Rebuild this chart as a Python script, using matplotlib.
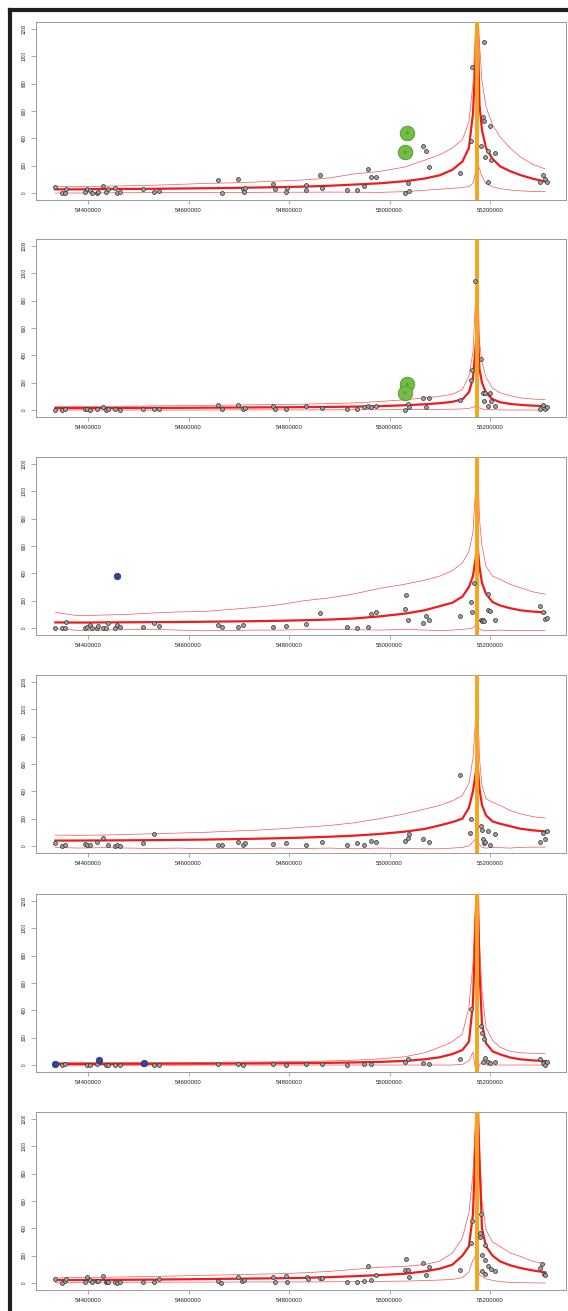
import matplotlib
matplotlib.use("Agg")
import matplotlib.pyplot as plt
from matplotlib.lines import Line2D

plt.rcParams['font.family'] = ['Liberation Sans', 'DejaVu Sans']

# ---------------- data ----------------
X_CURVE = [54335000, 54380000, 54430000, 54480000, 54530000, 54580000, 54630000, 54680000,
           54730000, 54780000, 54830000, 54880000, 54930000, 54980000, 55030000, 55070000,
           55100000, 55125000, 55145000, 55158000, 55166000, 55171000, 55175000, 55179000,
           55184000, 55192000, 55205000, 55220000, 55240000, 55260000, 55285000, 55310000]

MEAN_1 = [27, 27, 29, 30, 31, 33, 35, 37, 40, 43, 47, 53, 62, 71, 86, 106, 130, 170, 230, 330,
          580, 950, 1300, 650, 460, 330, 250, 195, 160, 132, 105, 83]
UPPER_1 = [46, 48, 50, 53, 57, 63, 70, 74, 80, 88, 96, 110, 140, 158, 190, 240, 280, 330, 390, 520,
           800, 1200, 1400, 1100, 820, 630, 500, 410, 330, 265, 210, 176]
LOWER_1 = [0, 0, 1, 2, 3, 3, 4, 5, 5, 6, 6, 7, 6, 5, 10, 20, 28, 34, 40, 48,
           70, 150, 220, 180, 120, 70, 45, 32, 22, 16, 12, 10]

MEAN_2 = [14, 14, 15, 15, 16, 16, 17, 18, 19, 20, 21, 23, 25, 28, 35, 42, 50, 60, 78, 130,
          230, 450, 650, 300, 200, 126, 80, 57, 45, 38, 32, 28]
UPPER_2 = [25, 26, 27, 28, 30, 32, 34, 36, 38, 40, 43, 47, 52, 62, 75, 88, 100, 115, 150, 250,
           420, 800, 1100, 500, 350, 240, 160, 126, 105, 89, 80, 77]
LOWER_2 = [0, 0, 0, 0, 0, 0, 0, 1, 1, 1, 1, 2, 2, 2, 3, 4, 5, 6, 8, 12,
           20, 30, 25, 15, 8, 4, 2, 1, 0, 0, 0, 0]

MEAN_3 = [41, 40, 41, 42, 43, 44, 46, 48, 50, 53, 57, 62, 70, 85, 105, 130, 160, 185, 230, 300,
          380, 500, 610, 450, 330, 250, 190, 165, 145, 130, 120, 114]
UPPER_3 = [114, 90, 95, 100, 110, 118, 121, 135, 150, 170, 200, 220, 250, 290, 320, 350, 380, 420, 477, 560,
           700, 1000, 1300, 800, 600, 452, 380, 356, 320, 295, 265, 247]
LOWER_3 = [-5, -17, -15, -12, -10, -15, -20, -18, -15, -15, -12, -10, -12, -15, -10, -15, -19, -15, -10, -5,
           0, 20, 10, -5, -15, -19, -18, -15, -18, -19, -18, -19]

MEAN_4 = [40, 40, 41, 42, 43, 45, 47, 50, 53, 57, 62, 68, 76, 88, 105, 125, 151, 175, 200, 280,
          400, 520, 620, 420, 300, 224, 180, 163, 145, 127, 115, 107]
UPPER_4 = [80, 78, 80, 85, 90, 95, 100, 108, 115, 125, 138, 150, 170, 200, 235, 270, 297, 330, 370, 460,
           640, 900, 1100, 640, 443, 346, 320, 297, 260, 236, 215, 205]
LOWER_4 = [-10, -15, -12, -15, -18, -15, -20, -18, -20, -15, -18, -15, -20, -15, -18, -20, -20, -15, -10, 0,
           30, 53, 40, 10, -10, -15, -10, -12, -15, -10, -8, -8]

MEAN_5 = [8, 8, 8, 9, 9, 10, 10, 11, 12, 13, 14, 16, 19, 23, 30, 42, 57, 80, 110, 170,
          450, 1000, 1400, 700, 300, 160, 100, 78, 55, 42, 34, 29]
UPPER_5 = [18, 20, 17, 19, 18, 20, 19, 21, 22, 24, 26, 30, 35, 45, 60, 90, 130, 170, 228, 423,
           740, 1200, 1400, 900, 545, 277, 180, 130, 100, 90, 85, 82]
LOWER_5 = [0, -2, 0, -3, 0, -2, 0, -1, 0, 0, 0, 0, 0, 0, 0, 0, 0, 0, 5, 30,
           94, -30, -50, 0, 20, 0, 0, 0, 0, 0, 0, 0]

MEAN_6 = [22, 22, 23, 24, 25, 27, 29, 31, 33, 35, 38, 43, 50, 58, 68, 85, 105, 134, 200, 268,
          500, 1000, 1400, 900, 400, 268, 200, 158, 130, 110, 92, 78]
UPPER_6 = [37, 40, 42, 45, 48, 52, 56, 60, 64, 68, 75, 85, 100, 115, 122, 135, 160, 220, 330, 513,
           800, 1200, 1400, 1000, 600, 390, 300, 268, 220, 195, 160, 139]
LOWER_6 = [5, 5, 6, 6, 6, 7, 7, 7, 8, 8, 8, 9, 10, 12, 14, 18, 22, 26, 40, 80,
           170, 200, 150, 60, 49, 30, 20, 10, 5, 3, 1, 0]

# observed points (position bp, value)
PX_1 = [54334300, 54348300, 54354200, 54356200, 54394000, 54398000, 54404000, 54408000, 54417900,
        54419900, 54429900, 54435800, 54439800, 54453700, 54457700, 54463700, 54509500, 54531300,
        54541300, 54658700, 54666700, 54698500, 54708500, 54710400, 54712400, 54768200, 54772100,
        54794000, 54796000, 54833800, 54833800, 54861700, 54865700, 54915400, 54935300, 54949200,
        54957200, 54963200, 54973100, 55030800, 55036800, 55038800, 55066700, 55072600, 55078600,
        55140300, 55162200, 55164200, 55182100, 55186100, 55188200, 55190000, 55196000, 55196000,
        55200000, 55202000, 55209900, 55299500, 55305500, 55309400, 55313400, 55187500]
PY_1 = [42, 0, 0, 27, 5, 33, 25, 0, 3, 10, 48, 4, 33, 37, 0, 10, 32, 5, 15, 97, 2, 100, 30, 8, 38,
        68, 27, 8, 38, 22, 56, 129, 35, 20, 24, 51, 178, 115, 120, 0, 73, 17, 341, 310, 190, 146,
        380, 922, 344, 554, 527, 263, 310, 78, 488, 241, 290, 80, 132, 102, 80, 1102]

PX_2 = [54334300, 54348300, 54354200, 54394000, 54398000, 54404000, 54417900, 54429900, 54435800,
        54439800, 54453700, 54463700, 54509500, 54531300, 54541300, 54658700, 54666700, 54698500,
        54708500, 54712400, 54768200, 54772100, 54794000, 54833800, 54865700, 54915400, 54935300,
        54949200, 54957200, 54963200, 54973100, 55030800, 55036800, 55038800, 55066700, 55072600,
        55078600, 55140300, 55162200, 55164200, 55170100, 55182100, 55186100, 55188200, 55190000,
        55196000, 55200000, 55202000, 55209900, 55299500, 55305500, 55309400, 55313400]
PY_2 = [0, 0, 5, 5, 10, 3, 5, 20, 3, 10, 5, 3, 10, 5, 8, 40, 5, 35, 10, 15, 30, 10, 10, 30, 15,
        5, 10, 20, 30, 25, 30, 0, 45, 20, 91, 23, 91, 77, 218, 296, 942, 372, 125, 64, 125,
        28, 125, 64, 33, 9, 40, 9, 20]

PX_3 = [54334300, 54348300, 54354200, 54356200, 54394000, 54398000, 54404000, 54408000, 54417900,
        54419900, 54429900, 54435800, 54439800, 54453700, 54457700, 54463700, 54509500, 54531300,
        54541300, 54658700, 54666700, 54698500, 54708500, 54768200, 54794000, 54833800, 54861700,
        54915400, 54935300, 54957200, 54963200, 54973100, 55030800, 55032800, 55036800, 55066700,
        55072600, 55078600, 55140300, 55162200, 55164200, 55168800, 55182100, 55184100, 55186100,
        55188200, 55196000, 55196000, 55200000, 55209900, 55299500, 55305500, 55309400, 55313400]
PY_3 = [0, 0, 0, 45, 0, 10, 20, 0, 0, 15, 0, 0, 36, 0, 25, 5, 5, 36, 14, 20, 5, 10, 25, 5, 15,
        30, 110, 5, 0, 10, 100, 115, 138, 240, 60, 40, 90, 60, 85, 194, 114, 329, 60, 50, 60,
        50, 247, 133, 128, 58, 162, 114, 65, 73]

PX_4 = [54334300, 54348300, 54354200, 54394000, 54398000, 54404000, 54417900, 54429900, 54439800,
        54453700, 54457700, 54463700, 54509500, 54531300, 54658700, 54666700, 54698500, 54708500,
        54712400, 54768200, 54794000, 54833800, 54865700, 54915400, 54935300, 54949200, 54963200,
        54973100, 55030800, 55036800, 55038800, 55066700, 55078600, 55140300, 55160200, 55162200,
        55182100, 55184100, 55186100, 55188200, 55190000, 55196000, 55200000, 55209900, 55299500,
        55305500, 55309400, 55313400]
PY_4 = [20, 0, 10, 15, 5, 10, 30, 60, 5, 0, 5, 0, 20, 85, 10, 5, 30, 10, 20, 15, 20, 10, 30, 5,
        20, 10, 40, 30, 40, 60, 90, 50, 30, 516, 97, 200, 143, 117, 50, 20, 30, 107, 10, 85,
        29, 97, 53, 107]

PX_5 = [54348300, 54354200, 54398000, 54404000, 54417900, 54435800, 54439800, 54453700, 54463700,
        54509500, 54531300, 54541300, 54658700, 54698500, 54708500, 54768200, 54794000, 54833800,
        54865700, 54915400, 54949200, 54963200, 55030800, 55036800, 55066700, 55078600, 55140300,
        55162200, 55182100, 55184100, 55186100, 55188200, 55190000, 55196000, 55200000, 55209900,
        55299500, 55305500, 55309400, 55313400]
PY_5 = [0, 5, 0, 3, 5, 0, 3, 0, 2, 5, 0, 3, 5, 8, 3, 5, 3, 5, 8, 3, 10, 8, 20, 45, 15, 10, 46,
        412, 283, 232, 22, 188, 53, 22, 15, 22, 46, 17, 0, 22]

PX_6 = [54334300, 54348300, 54354200, 54356200, 54394000, 54398000, 54404000, 54408000, 54417900,
        54419900, 54429900, 54435800, 54437800, 54439800, 54453700, 54457700, 54463700, 54509500,
        54531300, 54541300, 54658700, 54664700, 54698500, 54706500, 54710400, 54768200, 54772100,
        54794000, 54796000, 54835800, 54837800, 54861700, 54865700, 54915400, 54935300, 54949200,
        54963200, 54973100, 54957200, 55032800, 55030800, 55036800, 55038800, 55066700, 55078600,
        55072600, 55140300, 55162200, 55164200, 55182100, 55180100, 55181000, 55189300, 55183100,
        55190000, 55196000, 55202000, 55209900, 55184100, 55190000, 55303500, 55299500, 55307400,
        55309400]
PY_6 = [31, 0, 12, 29, 7, 44, 24, 7, 12, 12, 49, 10, 5, 10, 5, 0, 5, 10, 10, 29, 12, 0, 44, 12,
        24, 44, 7, 49, 7, 44, 29, 34, 39, 7, 7, 17, 24, 59, 124, 173, 92, 92, 42, 146, 119, 59, 93,
        295, 456, 502, 366, 337, 278, 202, 168, 124, 100, 85, 85, 68, 141, 110, 66, 60]

GREEN_X_1 = [55035400, 55030800]
GREEN_Y_1 = [441, 298]
GREEN_X_2 = [55035400, 55030800]
GREEN_Y_2 = [189, 126]
BLUE_X_3 = [54458300]
BLUE_Y_3 = [380]
BLUE_X_5 = [54335000, 54421900, 54510800]
BLUE_Y_5 = [10, 34, 15]

PEAK_POS = 55175000
X_TICKS = [54400000, 54600000, 54800000, 55000000, 55200000]
Y_TICKS = [0, 200, 400, 600, 800, 1000, 1200]

PANELS = [
    (MEAN_1, UPPER_1, LOWER_1, PX_1, PY_1, [(GREEN_X_1, GREEN_Y_1, 'green')]),
    (MEAN_2, UPPER_2, LOWER_2, PX_2, PY_2, [(GREEN_X_2, GREEN_Y_2, 'green')]),
    (MEAN_3, UPPER_3, LOWER_3, PX_3, PY_3, [(BLUE_X_3, BLUE_Y_3, 'blue')]),
    (MEAN_4, UPPER_4, LOWER_4, PX_4, PY_4, []),
    (MEAN_5, UPPER_5, LOWER_5, PX_5, PY_5, [(BLUE_X_5, BLUE_Y_5, 'blue')]),
    (MEAN_6, UPPER_6, LOWER_6, PX_6, PY_6, []),
]

# ---------------- figure ----------------
W, H = 568, 1311
fig = plt.figure(figsize=(W / 100, H / 100), dpi=100)
fig.patch.set_facecolor('white')

tops = [22, 239, 457, 675, 894, 1112]
box_left, box_right, box_h = 36, 566, 178
RED = '#ee1c1c'
ORANGE = '#f8a31a'

for top, (mean, upper, lower, px, py, specials) in zip(tops, PANELS):
    ax = fig.add_axes([box_left / W, 1 - (top + box_h) / H, (box_right - box_left) / W, box_h / H])
    ax.set_xlim(54296500, 55351200)
    ax.set_ylim(-51, 1251)
    for s in ax.spines.values():
        s.set_color('#9a9a9a')
        s.set_linewidth(0.7)
    ax.plot(X_CURVE, upper, color=RED, lw=0.5, alpha=0.75, zorder=2)
    ax.plot(X_CURVE, lower, color=RED, lw=0.5, alpha=0.75, zorder=2)
    ax.plot(X_CURVE, mean, color=RED, lw=1.6, zorder=3)
    ax.axvline(PEAK_POS, color=ORANGE, lw=2.8, zorder=4)
    ax.scatter(px, py, s=8, facecolor='#a0a0a0', edgecolor='#3a3a3a', linewidths=0.55, zorder=5)
    for sx, sy, kind in specials:
        if kind == 'green':
            ax.scatter(sx, sy, s=110, facecolor='#74bd44', edgecolor='#55903a', linewidths=0.6, zorder=6)
            ax.scatter(sx, sy, s=5, facecolor='#5aa035', edgecolor='none', zorder=7)
        else:
            ax.scatter(sx, sy, s=22, facecolor='#33449a', edgecolor='#22307a', linewidths=0.5, zorder=6)
    ax.set_xticks(X_TICKS)
    ax.set_xticklabels([str(t) for t in X_TICKS], fontsize=4.3)
    ax.set_yticks(Y_TICKS)
    ax.set_yticklabels([str(t) for t in Y_TICKS], fontsize=3.3, rotation=90, va='center')
    ax.tick_params(axis='both', colors='#9a9a9a', labelcolor='#222222', width=0.6)
    ax.tick_params(axis='x', length=3, pad=3)
    ax.tick_params(axis='y', length=3.5, pad=3)

# outer frame (left and top)
fig.add_artist(Line2D([10 / W, 10 / W], [0, 1 - 10 / H], transform=fig.transFigure, color='#1e1e1e', lw=3))
fig.add_artist(Line2D([10 / W, 1], [1 - 10 / H, 1 - 10 / H], transform=fig.transFigure, color='#1e1e1e', lw=3))

fig.savefig('out.png', dpi=100)
